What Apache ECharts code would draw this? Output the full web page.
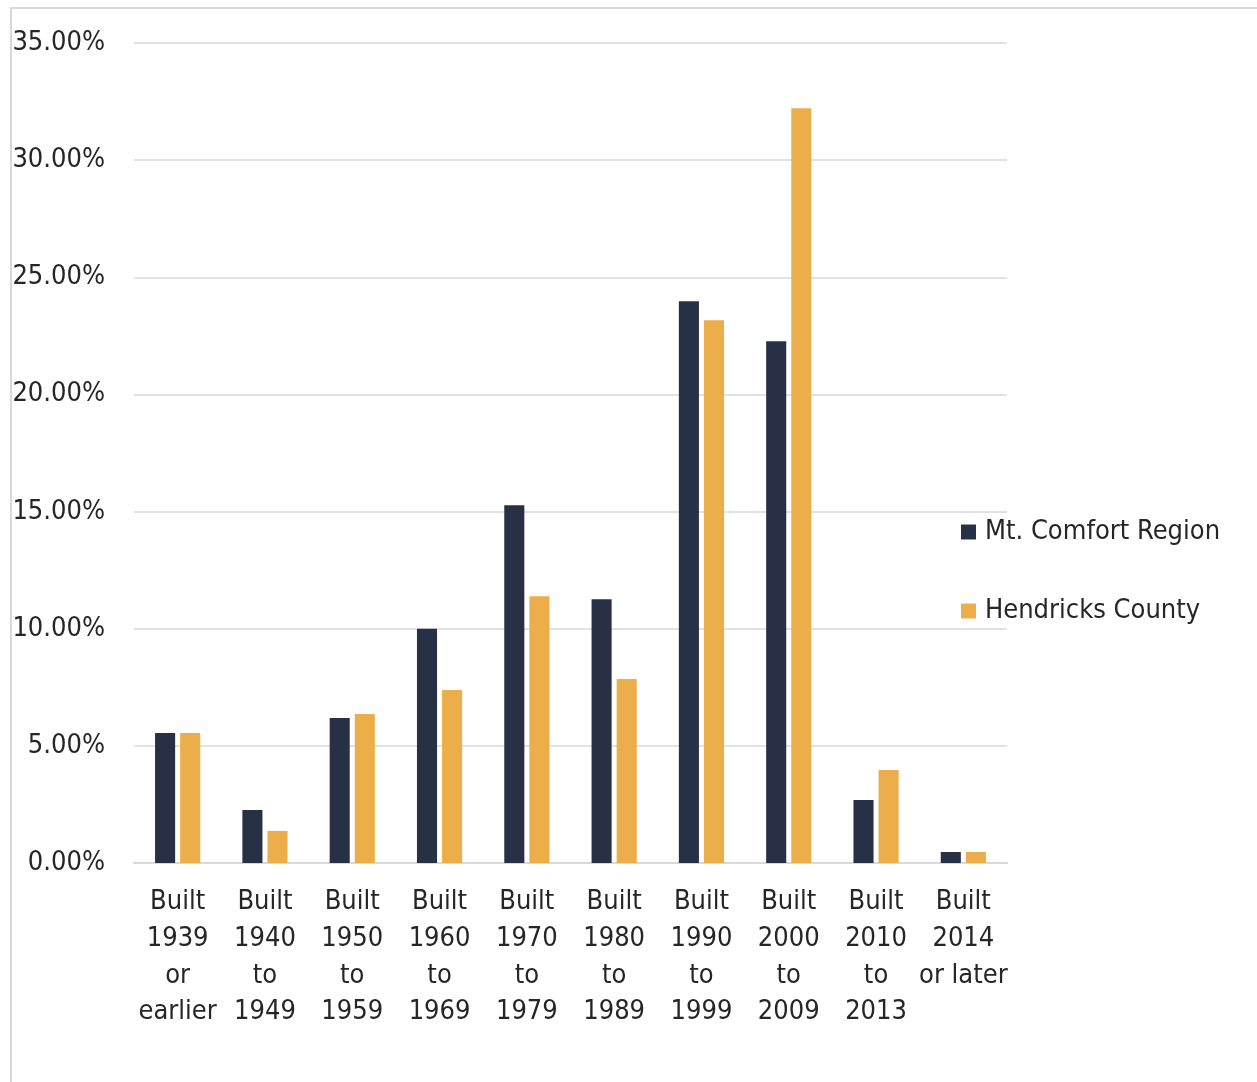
<!DOCTYPE html>
<html><head><meta charset="utf-8">
<script src="https://cdn.jsdelivr.net/npm/echarts@6/dist/echarts.min.js"></script>
<style>html,body{margin:0;padding:0;background:#fff}#c{width:1257px;height:1082px}</style>
</head><body><div id="c"></div>
<script>
const categories = ["Built\n1939\nor\nearlier","Built\n1940\nto\n1949","Built\n1950\nto\n1959","Built\n1960\nto\n1969","Built\n1970\nto\n1979","Built\n1980\nto\n1989","Built\n1990\nto\n1999","Built\n2000\nto\n2009","Built\n2010\nto\n2013","Built\n2014\nor later"];
const seriesNames = ["Mt. Comfort Region","Hendricks County"];
const mtComfort = [5.55, 2.26, 6.19, 10.0, 15.27, 11.26, 23.98, 22.27, 2.69, 0.47];
const hendricks = [5.55, 1.37, 6.36, 7.38, 11.39, 7.85, 23.17, 32.21, 3.97, 0.47];
const yMin = 0, yMax = 35, yStep = 5;

const FONT = '"DejaVu Sans Condensed","Liberation Sans Narrow",sans-serif';
const FS = 27;
const chart = echarts.init(document.getElementById('c'), null, {renderer:'canvas'});
chart.setOption({
  animation:false,
  backgroundColor:'#fff',
  textStyle:{fontFamily:FONT},
  graphic:[{type:'rect',shape:{x:11,y:8,width:1300,height:1100},style:{fill:'none',stroke:'#d9d9d9',lineWidth:2},silent:true}],
  grid:{left:134,right:250,top:43,bottom:219,containLabel:false},
  legend:{orient:'vertical',left:961,top:517,padding:0,itemWidth:15,itemHeight:15,itemGap:49,
    icon:'rect',
    textStyle:{fontFamily:FONT,fontSize:FS,color:'#262626',lineHeight:30,padding:[0,0,0,4]},
    data:seriesNames},
  xAxis:{type:'category',data:categories,
    axisLine:{lineStyle:{color:'#d9d9d9',width:2}},axisTick:{show:false},
    axisLabel:{interval:0,fontFamily:FONT,fontSize:FS,color:'#262626',lineHeight:36.7,margin:21,align:'center'}},
  yAxis:{type:'value',min:yMin,max:yMax,interval:yStep,
    axisLine:{show:false},axisTick:{show:false},
    splitLine:{lineStyle:{color:'#d9d9d9',width:1.5}},
    axisLabel:{fontFamily:FONT,fontSize:FS,color:'#262626',margin:29,formatter:v=>v.toFixed(2)+'%'}},
  series:[
    {name:seriesNames[0],type:'bar',data:mtComfort,barWidth:'23%',barGap:'25%',itemStyle:{color:'#283046'}},
    {name:seriesNames[1],type:'bar',data:hendricks,barWidth:'23%',barGap:'25%',itemStyle:{color:'#ebae4a'}}
  ]
});
</script></body></html>
